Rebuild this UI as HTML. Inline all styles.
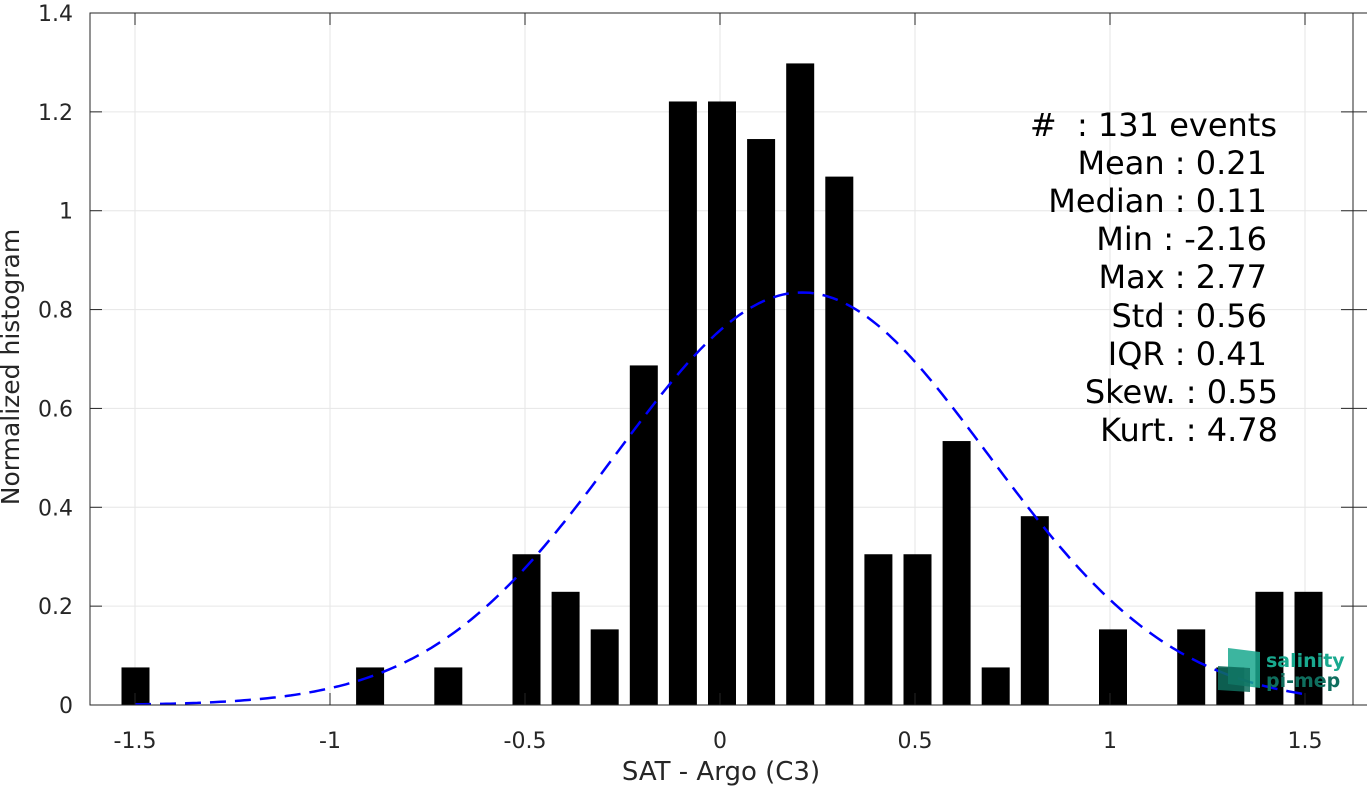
<!DOCTYPE html>
<html><head><meta charset="utf-8"><style>
html,body{margin:0;padding:0;background:#fff;}
svg{display:block;font-family:"DejaVu Sans","Liberation Sans",sans-serif;}
</style></head><body>
<svg id="chart" width="1367" height="787">
<g id="grid"></g>
<g id="bars"></g>
<path id="fit" fill="none" stroke="#0000ff" stroke-width="2.5" stroke-dasharray="16,9"/>
<g id="axes"></g>
<text x="0" y="0" transform="translate(19,367) rotate(-90)" text-anchor="middle" font-size="25" fill="#262626">Normalized histogram</text>
<text x="721" y="780" text-anchor="middle" font-size="26" fill="#262626">SAT - Argo (C3)</text>
<g font-size="32" fill="#000" text-anchor="end">
<text x="1277" y="136">#&#160;&#160;: 131 events</text>
<text x="1267" y="174">Mean : 0.21</text>
<text x="1267" y="212">Median : 0.11</text>
<text x="1267" y="250">Min : -2.16</text>
<text x="1267" y="288">Max : 2.77</text>
<text x="1267" y="327">Std : 0.56</text>
<text x="1267" y="365">IQR : 0.41</text>
<text x="1278" y="403">Skew. : 0.55</text>
<text x="1278" y="441">Kurt. : 4.78</text>
</g>
<g>
<polygon points="1228,648 1260,652 1260,688 1228,684" fill="#1aa88e" opacity="0.85"/>
<polygon points="1218,666 1250,668 1250,692 1218,690" fill="#0f6e5e" opacity="0.85"/>
<text x="1266" y="667" font-size="19" font-weight="bold" fill="#19a98f">salinity</text>
<text x="1266" y="687" font-size="19" font-weight="bold" fill="#0f6e5e">pi-mep</text>
</g>
</svg>
<script>
const binCenters=[-1.5,-0.9,-0.7,-0.5,-0.4,-0.3,-0.2,-0.1,0,0.1,0.2,0.3,0.4,0.5,0.6,0.7,0.8,1.0,1.2,1.3,1.4,1.5];
const binValues=[0.076,0.076,0.076,0.305,0.229,0.153,0.687,1.221,1.221,1.145,1.298,1.069,0.305,0.305,0.534,0.076,0.382,0.153,0.153,0.076,0.229,0.229];
const xTicks=[-1.5,-1,-0.5,0,0.5,1,1.5];
const xTickLabels=["-1.5","-1","-0.5","0","0.5","1","1.5"];
const yTicks=[0,0.2,0.4,0.6,0.8,1,1.2,1.4];
const yTickLabels=["0","0.2","0.4","0.6","0.8","1","1.2","1.4"];
const fitMean=0.21, fitStd=0.478;
const NS="http://www.w3.org/2000/svg";
const L=90,R=1353,T=13,B=705;
const X=v=>720+v*390;
const XB=v=>722+v*391;
const Y=v=>B-v*(B-T)/1.4;
function mk(tag,attrs,parent){const e=document.createElementNS(NS,tag);for(const k in attrs)e.setAttribute(k,attrs[k]);parent.appendChild(e);return e;}
const grid=document.getElementById('grid'),axes=document.getElementById('axes'),bars=document.getElementById('bars');
xTicks.forEach((t,i)=>{
 const g=mk('line',{x1:X(t),x2:X(t),y1:T,y2:B,stroke:'#e6e6e6','stroke-width':1},grid);
 
 
 mk('line',{x1:X(t),x2:X(t),y1:B,y2:B-12,stroke:'#262626','stroke-width':1},axes);
 mk('line',{x1:X(t),x2:X(t),y1:T,y2:T+12,stroke:'#262626','stroke-width':1},axes);
 const tx=mk('text',{x:X(t),y:B+43,'text-anchor':'middle','font-size':22,fill:'#262626'},axes);
 tx.textContent=xTickLabels[i];
 
 
});
yTicks.forEach((t,i)=>{
 const g=mk('line',{x1:L,x2:R,y1:Y(t),y2:Y(t),stroke:'#e6e6e6','stroke-width':1},grid);
 
 
 mk('line',{x1:L,x2:L+12,y1:Y(t),y2:Y(t),stroke:'#262626','stroke-width':1},axes);
 mk('line',{x1:R-12,x2:1367,y1:Y(t),y2:Y(t),stroke:'#262626','stroke-width':1},axes);
 const tx=mk('text',{x:L-17,y:Y(t)+8,'text-anchor':'end','font-size':22,fill:'#262626'},axes);
 tx.textContent=yTickLabels[i];
 
 
});
mk('rect',{x:L,y:T,width:R-L,height:B-T,fill:'none',stroke:'#262626','stroke-width':1},axes);
binCenters.forEach((c,i)=>{
 const r=mk('rect',{x:XB(c)-14,y:Y(binValues[i]),width:28,height:B-Y(binValues[i]),fill:'#000'},bars);
 
 
});
let d='';
for(let k=0;k<=300;k++){const v=-1.5+3*k/300;const p=Math.exp(-0.5*((v-fitMean)/fitStd)**2)/(fitStd*Math.sqrt(2*Math.PI));d+=(k?'L':'M')+X(v).toFixed(1)+','+Y(p).toFixed(1);}
document.getElementById('fit').setAttribute('d',d);
</script>
</body></html>
